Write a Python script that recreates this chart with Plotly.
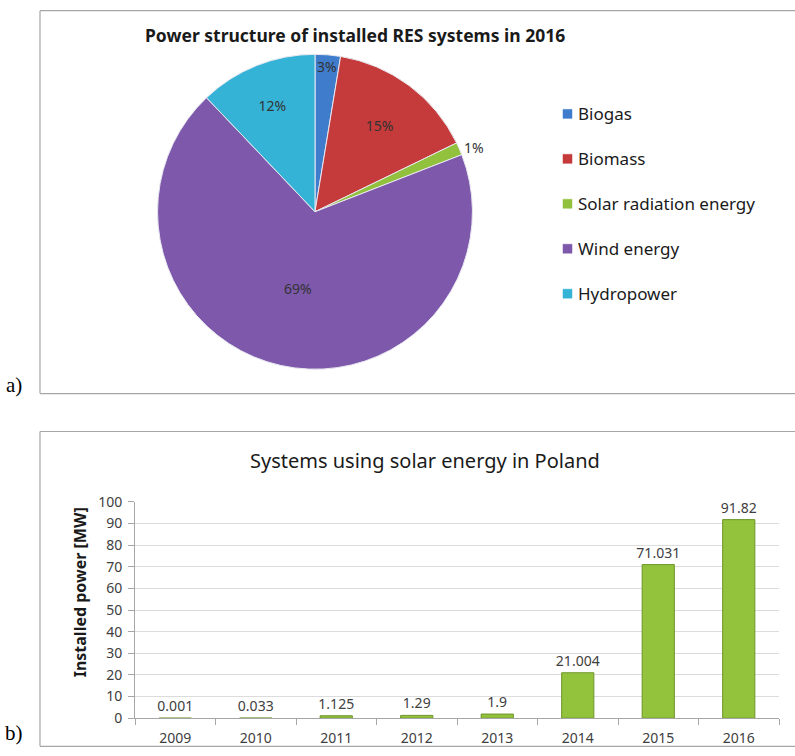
import plotly.graph_objects as go

# ---- data ----
pie_labels = ["Biogas", "Biomass", "Solar radiation energy", "Wind energy", "Hydropower"]
pie_values = [2.6, 15.2, 1.3, 68.8, 12.1]
pie_colors = ["#3f7ccc", "#c53a3b", "#92c13e", "#7d58ab", "#35b3d6"]
pie_textpos = ["inside", "inside", "outside", "inside", "inside"]

years = ["2009", "2010", "2011", "2012", "2013", "2014", "2015", "2016"]
power = [0.001, 0.033, 1.125, 1.29, 1.9, 21.004, 71.031, 91.82]
power_labels = ["0.001", "0.033", "1.125", "1.29", "1.9", "21.004", "71.031", "91.82"]

W, H = 795, 756
# picture-pixel -> paper coordinates (the photographed page maps y as ~9 + 0.976*y)
def px(x): return x / W
def wy(y): return (y - 9) / 0.976
def py(y): return 1 - wy(y) / H
def pyw(yw): return 1 - yw / H   # raw window pixel -> paper

SANS = "Noto Sans, Open Sans, sans-serif"

fig = go.Figure()

cx, cy, r = 315, 211, 161.5
cyw = wy(cy)
fig.add_trace(go.Pie(
    labels=pie_labels, values=pie_values, sort=False, direction="clockwise", rotation=0,
    marker=dict(colors=pie_colors, line=dict(color="#e8e8f0", width=1)),
    texttemplate="%{percent:.0%}", textposition=pie_textpos,
    insidetextorientation="horizontal",
    textfont=dict(size=14, color="#333333", family=SANS),
    showlegend=False, hoverinfo="label+percent",
    domain=dict(x=[px(cx - r), px(cx + r)], y=[pyw(cyw + r), pyw(cyw - r)]),
))

fig.add_trace(go.Bar(
    x=years, y=power, text=power_labels, textposition="outside",
    marker=dict(color="#93c23c", line=dict(color="#6e9628", width=1)),
    width=0.4, cliponaxis=False, constraintext="none",
    textfont=dict(size=14, color="#404040", family=SANS),
    showlegend=False, xaxis="x", yaxis="y",
))

FRAME = dict(color="#a6a6a6", width=1.2)
def hline(yp, x0, x1):
    return dict(type="line", xref="paper", yref="paper", x0=px(x0), x1=px(x1), y0=yp, y1=yp, line=FRAME)
def vline(x, y0p, y1p):
    return dict(type="line", xref="paper", yref="paper", x0=px(x), x1=px(x), y0=y0p, y1=y1p, line=FRAME)

top_a, bot_a = pyw(0.7), py(393)
top_b, bot_b = py(431), pyw(755.3)
shapes = [
    hline(top_a, 40, 800), hline(bot_a, 40, 800), vline(40, top_a, bot_a),
    hline(top_b, 40, 800), hline(bot_b, 40, 800), vline(40, top_b, bot_b),
]

def ann(text, x, y, size, family=SANS, color="#1a1a1a", xanchor="center", angle=0):
    return dict(text=text, x=px(x), y=py(y), xref="paper", yref="paper", showarrow=False,
                xanchor=xanchor, yanchor="middle", textangle=angle,
                font=dict(size=size, color=color, family=family))

annotations = [
    ann("<b>Power structure of installed RES systems in 2016</b>", 355, 34, 17.5),
    ann("Systems using solar energy in Poland", 425, 460, 20),
    ann("<b>Installed power [MW]</b>", 80, 592, 16, angle=-90),
    ann("a)", 14, 384, 21, family="Liberation Serif, serif", color="black"),
    dict(text="b)", x=px(14), y=pyw(756), xref="paper", yref="paper", showarrow=False,
         xanchor="center", yanchor="bottom",
         font=dict(size=21, color="black", family="Liberation Serif, serif")),
]

# legend for the pie
for i, (lab, col) in enumerate(zip(pie_labels, pie_colors)):
    yy = 113 + 45 * i
    shapes.append(dict(type="rect", xref="paper", yref="paper",
                       x0=px(563), x1=px(572), y0=py(yy + 4.5), y1=py(yy - 4.5),
                       fillcolor=col, line=dict(color=col, width=0.5)))
    annotations.append(ann(lab, 576, yy, 17, xanchor="left"))

fig.update_layout(
    width=W, height=H, margin=dict(l=0, r=0, t=0, b=0),
    paper_bgcolor="white", plot_bgcolor="white",
    shapes=shapes, annotations=annotations,
    uniformtext=dict(mode="show", minsize=14),
    xaxis=dict(domain=[px(135), px(779)], anchor="y", type="category",
               showline=True, linecolor="#a6a6a6", ticks="outside", tickson="boundaries",
               ticklen=6, tickcolor="#a6a6a6", showgrid=False, ticklabelstandoff=7,
               tickfont=dict(size=14, color="#404040", family=SANS)),
    yaxis=dict(domain=[py(718), py(501.5)], anchor="x", range=[0, 100], dtick=10,
               showline=True, linecolor="#a6a6a6", ticks="outside", ticklen=6, tickcolor="#a6a6a6",
               gridcolor="#dcdcdc", zeroline=False, ticklabelstandoff=3,
               tickfont=dict(size=14, color="#404040", family=SANS)),
    bargap=0.6,
)

fig.write_html("out.html", config={"displayModeBar": False},
               post_script="document.body.style.margin='0px';")
